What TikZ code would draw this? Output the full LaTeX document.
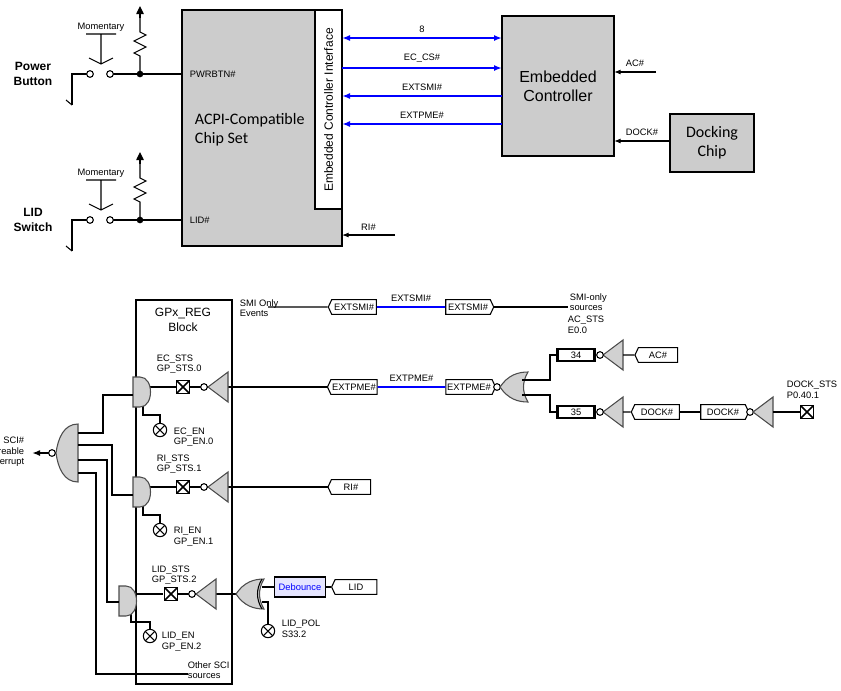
\documentclass[tikz,border=0pt]{standalone}
\usepackage{fontspec}
\setmainfont{Liberation Sans}
\newfontfamily\calfont{Carlito}
\usetikzlibrary{arrows.meta,shapes.symbols}
\tikzset{
  gatefill/.style={fill=black!18, draw=black!70},
  bub/.style={circle, draw, fill=white, inner sep=0pt, minimum size=5pt},
  xbox/.style={draw, line width=1.2pt, fill=white, minimum size=10pt, inner sep=0pt,
    path picture={\draw (path picture bounding box.north west) -- (path picture bounding box.south east)
      (path picture bounding box.south west) -- (path picture bounding box.north east);}},
  xcirc/.style={circle, draw, thick, fill=white, minimum size=10pt, inner sep=0pt,
    path picture={\draw ([shift={(-45:5pt)}]path picture bounding box.center) -- ([shift={(135:5pt)}]path picture bounding box.center)
      ([shift={(45:5pt)}]path picture bounding box.center) -- ([shift={(-135:5pt)}]path picture bounding box.center);}},
  tagl/.style={signal, signal to=west, signal pointer angle=130, draw, fill=white, font=\scriptsize, minimum height=11pt, minimum width=36pt, inner sep=1pt},
  tagr/.style={tagl, signal to=east},
  lbl/.style={font=\scriptsize, align=left, anchor=west, inner sep=1pt},
  sig/.style={-{Latex[length=6pt]}, blue, line width=1.3pt},
  reg/.style={draw, line width=2pt, fill=white, font=\scriptsize, minimum width=28pt, minimum height=9pt, inner sep=0pt},
  pics/andg/.style={code={\draw[gatefill] (0,-15) -- (7,-15) .. controls (21,-15) and (21,15) .. (7,15) -- (0,15) -- cycle;}},
  pics/orl/.style={code={\draw[gatefill] (0,0) .. controls (8,-12) and (18,-15) .. (28,-15) .. controls (22,-5) and (22,5) .. (28,15) .. controls (18,15) and (8,12) .. (0,0) -- cycle;}},
  pics/bufl/.style={code={\draw[gatefill] (0,0) -- (20,-15) -- (20,15) -- cycle;}},
}
\begin{document}
\begin{tikzpicture}[x=0.75pt, y=-0.75pt, line width=0.8pt]
\useasboundingbox (0,0) rectangle (841,690);
%top: chip set
\draw[fill=black!20, line width=1.2pt] (182,10) rectangle (342,246);
\draw[fill=white, line width=1.2pt] (315,10) rectangle (342,209);
\node[rotate=90, font=\small] (ecif) at (328.5,110) {Embedded Controller Interface};
\node[font=\calfont\large, align=left, anchor=west] (acpi) at (190,130) {ACPI-Compatible\\Chip Set};
\draw[fill=black!20, line width=1.2pt] (502,16) rectangle (614,156);
\node[font=\large, align=center] (ec) at (558,86) {Embedded\\Controller};
\draw[fill=black!20, line width=1.2pt] (670,114) rectangle (754,172);
\node[font=\calfont\large, align=center] (dock) at (712,143) {Docking\\Chip};
%interface signals
\draw[sig, {Latex[length=6pt]}-{Latex[length=6pt]}] (342,38) -- node[above, black, font=\scriptsize] {8} (502,38);
\draw[sig] (342,68) -- node[above, black, font=\scriptsize] {EC\_CS\#} (502,68);
\draw[sig] (502,96) -- node[above, black, font=\scriptsize] {EXTSMI\#} (342,96);
\draw[sig] (502,124) -- node[above, black, font=\scriptsize] {EXTPME\#} (342,124);
\draw[-{Latex[length=5pt]}] (656,72) -- node[above, font=\scriptsize] {AC\#} (614,72);
\draw[-{Latex[length=5pt]}] (670,141) -- node[above, font=\scriptsize] {DOCK\#} (614,141);
\draw[-{Latex[length=5pt]}] (395,235) -- node[above, font=\scriptsize] {RI\#} (342,235);
%switches
\foreach \y/\nm/\pin in {74/{Power\\Button}/PWRBTN\#, 220/{LID\\Switch}/LID\#}{
  \node[font=\small\bfseries, align=center] at (33,\y) {\nm};
  \node[lbl] at (188,\y) {\pin};
  \draw (140,\y) -- (182,\y);
  \draw[line width=1.3pt] (112,\y) -- (140,\y);
  \fill (140,\y) circle (2.5pt);
  \draw (140,\y) -- (140,\y-18) -- ++(-6,-3) -- ++(12,-6) -- ++(-12,-6) -- ++(12,-6) -- ++(-6,-3) -- (140,\y-62);
  \draw[-{Triangle[length=6pt]}] (140,\y-56) -- (140,\y-68);
  \draw (72,\y+31) -- (72,\y) -- (88,\y);
  \draw (72,\y+31) -- (66,\y+26);
  \draw[fill=white] (90,\y) circle (2.5pt) (110,\y) circle (2.5pt);
  \draw (86,\y-40) -- (116,\y-40) (101,\y-40) -- (101,\y-10) (89,\y-16) -- (101,\y-10) -- (113,\y-16);
  \node[font=\scriptsize] at (101,\y-47) {Momentary};
}
%bottom: register block
\draw[line width=1.3pt] (136,300) rectangle (232,684);
\node[font=\small, align=center] (gpx) at (183,320) {GPx\_REG\\Block};
\node[lbl] at (238,308) {SMI Only\\Events};
\node[tagl] (smia) at (354,307) {EXTSMI\#};
\node[tagr] (smib) at (468,307) {EXTSMI\#};
\node[lbl] (smisrc) at (568,302) {SMI-only\\sources};
\draw (268,307) -- (smia);
\draw[blue, line width=1.2pt] (smia) -- node[above, black, font=\scriptsize] {EXTSMI\#} (smib);
\draw (smib) -- (smisrc.west |- smib);
%status rows
\foreach \y/\a/\b/\c/\d in {387/EC\_STS/GP\_STS.0/EC\_EN/GP\_EN.0, 487/RI\_STS/GP\_STS.1/RI\_EN/GP\_EN.1}{
  \node[lbl] at (155,\y-23) {\a\\\b};
  \node[lbl] at (172,\y+50) {\c\\\d};
  \draw (143,\y+8) -- (143,\y+28) -- (160,\y+28) -- (160,\y+37);
  \node[xcirc] at (160,\y+43) {};
  \draw (150,\y) -- (208,\y) (228,\y) -- (330,\y);
  \pic at (133,\y+5) {andg};
  \node[xbox] at (183,\y) {};
  \pic at (208,\y) {bufl};
  \node[bub] at (204,\y) {};
}
%lid row
\node[lbl] at (150,575) {LID\_STS\\GP\_STS.2};
\node[lbl] at (160,642) {LID\_EN\\GP\_EN.2};
\draw (131,608) -- (131,622) -- (150,622) -- (150,629);
\node[xcirc] at (150,636) {};
\draw[line width=1.3pt] (134,594) -- (163,594);
\draw (178,594) -- (196,594) (216,594) -- (236,594);
\pic at (119,601) {andg};
\node[xbox] at (171,594) {};
\pic at (196,594) {bufl};
\node[bub] at (192,594) {};
\pic at (236,594) {orl};
\draw (262,579) .. controls (256,589) and (256,599) .. (262,609);
\node[draw, fill=blue!10, font=\scriptsize, text=blue, minimum width=36pt, minimum height=15pt] (deb) at (300,587) {Debounce};
\node[tagl, minimum width=34pt] (lid) at (356,587) {LID};
\draw[line width=1.3pt] (262,587) -- (deb);
\draw (deb) -- (lid);
\draw (262,602) -- (268,602) -- (268,625);
\node[xcirc] (pol) at (268,631) {};
\node[lbl] at (280,629) {LID\_POL\\S33.2};
%pme row
\node[tagl] (pmea) at (354,387) {EXTPME\#};
\node[tagr] (pmeb) at (469,387) {EXTPME\#};
\node[tagl, minimum width=32pt] (ri) at (351,487) {RI\#};
\draw[blue, line width=1.2pt] (pmea) -- node[above, black, font=\scriptsize] {EXTPME\#} (pmeb);
\draw[line width=1.3pt] (pmeb) -- (494,387);
\node[bub] at (497,387) {};
\pic at (500,387) {orl};
\node[lbl] at (566,325) {AC\_STS\\E0.0};
\node[reg] (b34) at (576,355) {34};
\node[reg] (b35) at (576,412) {35};
\draw[line width=1.3pt] (522,380) -- (550,380) -- (550,355) -- (b34);
\draw[line width=1.3pt] (522,395) -- (550,395) -- (550,412) -- (b35);
\pic at (603,355) {bufl};
\node[bub] at (600,355) {};
\pic at (603,412) {bufl};
\node[bub] at (600,412) {};
\node[tagl, minimum width=32pt] (ac) at (658,355) {AC\#};
\node[tagl] (docka) at (657,412) {DOCK\#};
\node[tagr] (dockb) at (723,412) {DOCK\#};
\draw (623,355) -- (ac) (623,412) -- (docka);
\draw[line width=1.3pt] (docka) -- (dockb);
\node[bub] at (750,412) {};
\pic at (753,412) {bufl};
\node[xbox] (dsts) at (807,412) {};
\draw[line width=1.3pt] (773,412) -- (dsts);
\node[lbl] at (785,390) {DOCK\_STS\\P0.40.1};
%sci gate
\draw[gatefill] (56,453) .. controls (58,438) and (64,424) .. (78,424) -- (78,482) .. controls (64,482) and (58,468) .. (56,453) -- cycle;
\node[bub] at (52,453) {};
\draw[-{Latex[length=6pt]}, line width=1.2pt] (49,453) -- (32,453);
\node[font=\scriptsize, align=right, anchor=east, inner sep=1pt] at (26,452) {SCI\#\\reable\\terrupt};
\draw (78,433) -- (103,433) -- (103,395) -- (133,395);
\draw (78,445) -- (112,445) -- (112,495) -- (133,495);
\draw (78,460) -- (107,460) -- (107,602) -- (119,602);
\draw (78,473) -- (96,473) -- (96,674) -- (188,674);
\node[lbl] at (186,670) {Other SCI\\sources};
\end{tikzpicture}
\end{document}
